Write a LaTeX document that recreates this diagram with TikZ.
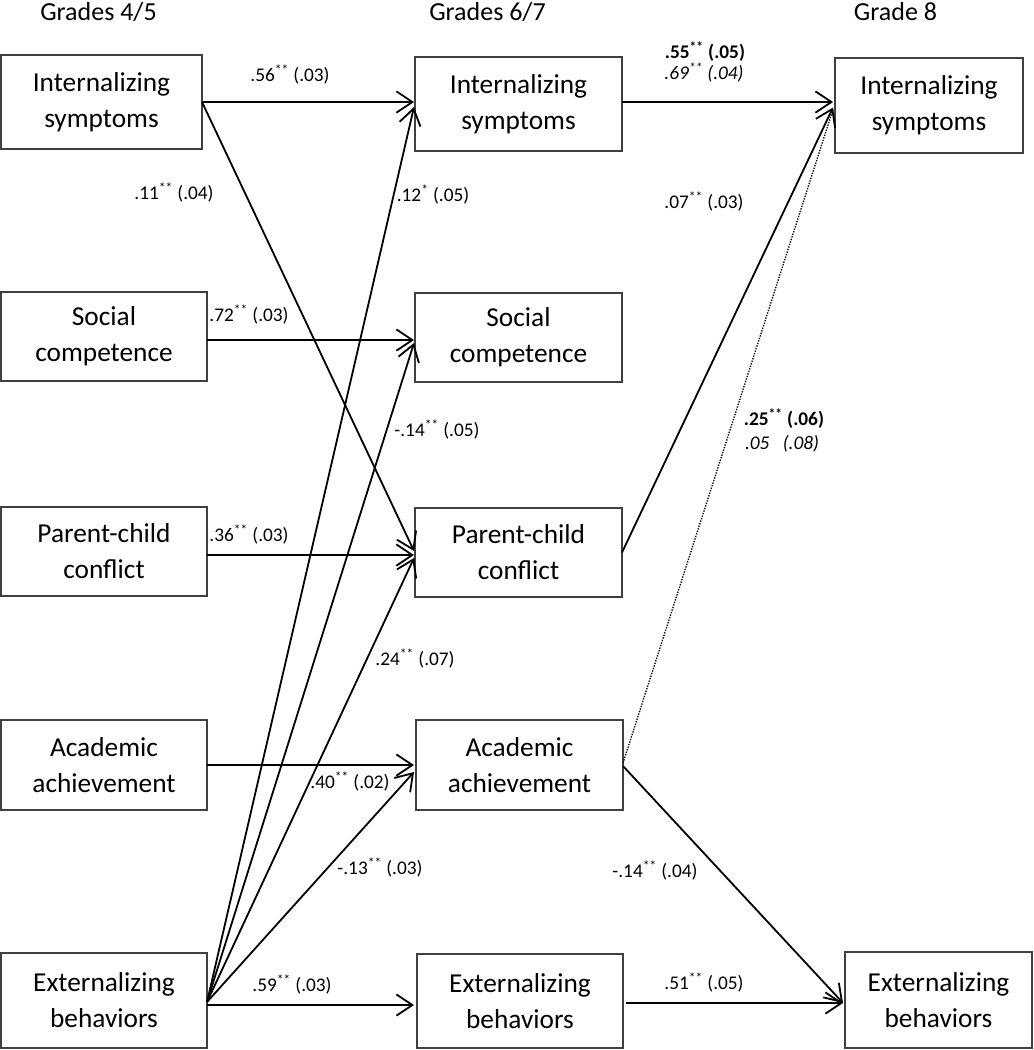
\documentclass[tikz,border=0pt]{standalone}
\usepackage{fontspec}
\setmainfont{Carlito}
\usetikzlibrary{arrows.meta,calc}
\newcommand{\stars}[1]{\textsuperscript{#1}}
\begin{document}
\begin{tikzpicture}[x=0.75pt,y=-0.75pt,
  box/.style={draw=black!75,line width=1.2pt,inner sep=0pt,outer sep=0pt,align=center,font=\fontsize{20.5}{27}\selectfont},
  arr/.style={line width=1.35pt,-{Straight Barb[length=12pt,width=16pt]}},
  dotarr/.style={line width=1pt,densely dotted},
  lbl/.style={font=\fontsize{14.5}{17}\selectfont,inner sep=0pt},
  hdr/.style={font=\fontsize{19.5}{23}\selectfont,inner sep=0pt,anchor=base}]
\useasboundingbox (0,0) rectangle (1034,1050);

% headers
\node[hdr] (h1) at (98.5,20) {Grades 4/5};
\node[hdr] (h2) at (487.5,20) {Grades 6/7};
\node[hdr] (h3) at (895.5,20) {Grade 8};

% column 1
\node[box,minimum width=150.75pt,minimum height=70.5pt] (int1) at (101.5,102) {Internalizing\\symptoms};
\node[box,minimum width=154.5pt,minimum height=66.75pt] (soc1) at (104,336.5) {Social\\competence};
\node[box,minimum width=154.5pt,minimum height=66.75pt] (par1) at (104,551.5) {Parent-child\\conflict};
\node[box,minimum width=154.5pt,minimum height=67.5pt] (aca1) at (104,765) {Academic\\achievement};
\node[box,minimum width=154.5pt,minimum height=71.25pt] (ext1) at (104,1000.5) {Externalizing\\behaviors};

% column 2
\node[box,minimum width=155.25pt,minimum height=70.5pt] (int2) at (518.5,104) {Internalizing\\symptoms};
\node[box,minimum width=155.25pt,minimum height=66.75pt] (soc2) at (518.5,337.5) {Social\\competence};
\node[box,minimum width=155.25pt,minimum height=66.75pt] (par2) at (518.5,552.5) {Parent-child\\conflict};
\node[box,minimum width=155.25pt,minimum height=67.5pt] (aca2) at (519.5,765) {Academic\\achievement};
\node[box,minimum width=154.5pt,minimum height=70.5pt] (ext2) at (520,1001) {Externalizing\\behaviors};

% column 3
\node[box,minimum width=141pt,minimum height=71.25pt] (int3) at (929,105.5) {Internalizing\\symptoms};
\node[box,minimum width=140.25pt,minimum height=72pt] (ext3) at (938.5,1000) {Externalizing\\behaviors};

% connectors col1 -> col2
\draw[arr] (int1.east) -- ($(int2.west)+(-1,-2)$);
\draw[arr] (int1.east) -- ($(par2.west)+(-1,-1.5)$);
\draw[arr] ($(ext1.east)+(0,1.5)$) -- ($(int2.west)+(-1,3)$);
\draw[arr] ($(soc1.east)+(0,3.5)$) -- ($(soc2.west)+(-1,2.5)$);
\draw[arr] ($(ext1.east)+(0,1.5)$) -- ($(soc2.west)+(-1,5.5)$);
\draw[arr] ($(par1.east)+(0,3.5)$) -- ($(par2.west)+(-1,2.5)$);
\draw[arr] ($(ext1.east)+(0,1.5)$) -- ($(par2.west)+(-1,5.5)$);
\draw[arr] (aca1.east) -- ($(aca2.west)+(-2,0)$);
\draw[arr] ($(ext1.east)+(0,1.5)$) -- ($(aca2.west)+(-2,7)$);
\draw[arr] ($(ext1.east)+(0,4.5)$) -- ($(ext2.west)+(-3,4)$);

% connectors col2 -> col3
\draw[arr] ($(int2.east)+(0,-2)$) -- ($(int3.west)+(-2,-3.5)$);
\draw[arr] (par2.east) -- ($(int3.west)+(-2,2)$);
\draw[dotarr] ($(aca2.east)+(0,-2)$) -- ($(int3.west)+(-2,4)$);
\draw[arr] ($(aca2.east)+(0,1)$) -- ($(ext3.west)+(-2,3)$);
\draw[arr] ($(ext2.east)+(3,2)$) -- ($(ext3.west)+(-2,3)$);

% labels
\node[lbl] (l1) at (290,75) {.56\stars{**} (.03)};
\node[lbl] (l2) at (174,193) {.11\stars{**} (.04)};
\node[lbl] (l3) at (433,195) {.12\stars{*} (.05)};
\node[lbl] (l4) at (249,315) {.72\stars{**} (.03)};
\node[lbl] (l5) at (437,430) {-.14\stars{**} (.05)};
\node[lbl] (l6) at (249,535) {.36\stars{**} (.03)};
\node[lbl] (l7) at (415,659) {.24\stars{**} (.07)};
\node[lbl] (l8) at (350,782) {.40\stars{**} (.02)};
\node[lbl] (l9) at (380,868) {-.13\stars{**} (.03)};
\node[lbl] (l10) at (292,985) {.59\stars{**} (.03)};
\node[lbl] (l11) at (655,871) {-.14\stars{**} (.04)};
\node[lbl] (l12) at (704,983) {.51\stars{**} (.05)};
\node[lbl] (l13) at (705,52) {\textbf{.55\stars{**} (.05)}};
\node[lbl] (l14) at (704,73) {\textit{.69\stars{**} (.04)}};
\node[lbl] (l15) at (704,202) {.07\stars{**} (.03)};
\node[lbl] (l16) at (784,419) {\textbf{.25\stars{**} (.06)}};
\node[lbl] (l17) at (782,444) {\textit{.05\hspace{10pt}(.08)}};
\end{tikzpicture}
\end{document}
